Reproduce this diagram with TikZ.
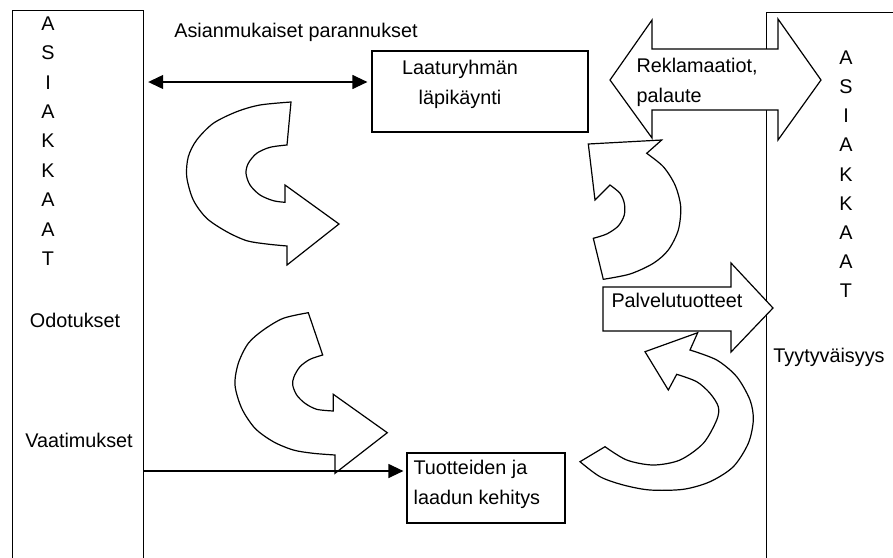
\documentclass[tikz,border=0pt]{standalone}
\usepackage{fontspec}
\setmainfont{Liberation Sans}
\usetikzlibrary{arrows.meta}

\begin{document}
\begin{tikzpicture}
  [x=1pt,y=-1pt,line width=1.2pt,
   teksti/.style={inner sep=0pt,font=\fontsize{19.8pt}{30pt}\selectfont},
   rivi/.style={teksti,text height=14.5pt,text depth=4pt},
   laatikko/.style={draw,inner sep=0pt},
   nuoli/.style={draw,fill=white,line join=miter},
   karki/.style={{Triangle[length=15pt,width=14pt]}-{Triangle[length=15pt,width=14pt]}}]
  \useasboundingbox (0,0) rectangle (893,557);
  \clip (0,0) rectangle (893,557);

  \node[laatikko,minimum width=131,minimum height=580,anchor=north west] (vasen) at (12,10) {};
  \node[laatikko,minimum width=200,minimum height=580,anchor=north west] (oikea) at (766,12) {};
  \node[laatikko,minimum width=216,minimum height=81] (laatu) at (480,91.5) {};
  \node[laatikko,minimum width=158,minimum height=70] (tuote) at (486,488) {};

  \foreach \ch [count=\i] in {A,S,I,A,K,K,A,A,T}
    \node[rivi] (v\i) at (48,{25+29.4*(\i-1)}) {\ch};
  \foreach \ch [count=\i] in {A,S,I,A,K,K,A,A,T}
    \node[rivi] (o\i) at (846,{59+29.2*(\i-1)}) {\ch};

  \node[rivi] (asianmukaiset) at (296,32) {Asianmukaiset parannukset};
  \node[rivi] (odotukset) at (75,322) {Odotukset};
  \node[rivi] (vaatimukset) at (79,442) {Vaatimukset};
  \node[rivi] (tyytyvaisyys) at (829,357) {Tyytyväisyys};
  \node[teksti,align=center] (laatuteksti) at ([xshift=-20pt,yshift=7.5pt]laatu.center) {Laaturyhmän\\läpikäynti};
  \node[teksti,align=left,anchor=west] (tuoteteksti) at (413,484) {Tuotteiden ja\\laadun kehitys};

  \draw[nuoli] (610,80) -- (652,20) -- (652,49) -- (778,49) -- (778,19) -- (821,80)
    -- (778,140) -- (778,110) -- (652,110) -- (652,138) -- cycle;
  \node[teksti,align=left,anchor=west] (reklamaatiot) at (636,82) {Reklamaatiot,\\palaute};

  \draw[nuoli] (603,287) -- (731,287) -- (731,263) -- (773,308) -- (731,352) -- (731,331)
    -- (603,331) -- cycle;
  \node[rivi] (palvelut) at (677,302) {Palvelutuotteet};

  \draw[nuoli] (291,102) -- (287,145)
    -- plot[smooth] coordinates {(287,145) (270,147.3) (256.7,153.3) (248.3,163.3) (246,173.3)
       (250,185) (260,195) (273.3,200.7) (285,202.3)}
    -- (285,185) -- (339,224) -- (287,265) -- (287,246)
    -- plot[smooth] coordinates {(287,246) (266.7,244) (246.7,240.7) (226.7,231.7) (206.7,218.3)
       (193.3,200) (186.7,176.7) (188.3,156.7) (196.7,140) (213.3,123.3) (236.7,111.7)
       (260,105) (291,102)} -- cycle;

  \draw[nuoli] (308.3,312.7) -- (322.7,355)
    -- plot[smooth] coordinates {(322.7,355) (310,359.3) (300,366.7) (294,376.7) (292.7,385)
       (296.7,395) (305,403.3) (316.7,409.3) (333.3,411)}
    -- (333.3,394.3) -- (387.3,432.7) -- (335,473.3) -- (335,455)
    -- plot[smooth] coordinates {(335,455) (313.3,453.3) (293.3,450) (273.3,441.7) (255,428.3)
       (241.7,408.3) (235,385) (238.3,363.3) (248.3,343.3) (263.3,330) (283.3,318.3)
       (308.3,312.7)} -- cycle;

  \draw[nuoli] (588.3,144) -- (661.7,140) -- (646.7,153.3)
    -- plot[smooth] coordinates {(646.7,153.3) (663.3,166.7) (675,185) (680.7,206.7) (678.3,230)
       (668.3,250) (653.3,263.3) (630,274) (603.3,279.3)}
    -- (593.3,238.3)
    -- plot[smooth] coordinates {(593.3,238.3) (606.7,234) (618.3,226) (624.3,215) (624.3,203.3)
       (620,193.3) (610,185)}
    -- (595,200) -- cycle;

  \draw[nuoli] (645,351.7) -- (697.7,332.7) -- (690,350)
    -- plot[smooth] coordinates {(690,350) (716.7,360) (736.7,376.7) (750,400) (753.3,420)
       (748.3,443.3) (733.3,466.7) (710,481.7) (683.3,489.3) (650,490) (623.3,485)
       (600,476.7) (580,461.7)}
    -- (605,446.7)
    -- plot[smooth] coordinates {(605,446.7) (626.7,460) (653.3,465) (680,460) (703.3,443.3)
       (716.7,420) (718.3,406.7) (710,393.3) (696.7,381.7) (676.7,374.3)}
    -- (668.3,390) -- cycle;

  \draw[karki,shorten <=4pt,shorten >=4pt] ([yshift=9.5pt]vasen.east |- laatu.west) -- ([yshift=9.5pt]laatu.west);
  \draw[-{Triangle[length=15pt,width=14pt]},shorten >=3pt] ([yshift=17pt]vasen.east |- tuote.west) -- ([yshift=17pt]tuote.west);
\end{tikzpicture}
\end{document}
